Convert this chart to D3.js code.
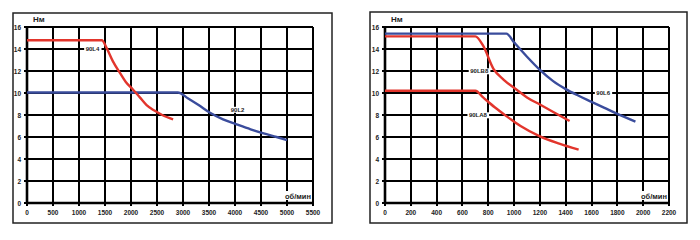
<!DOCTYPE html>
<html>
<head>
<meta charset="utf-8">
<script src="https://cdn.jsdelivr.net/npm/d3@7"></script>
<style>
body { margin: 0; background: #fff; }
svg { display: block; }
text { font-family: "Liberation Sans", Arial, sans-serif; font-weight: bold; }
</style>
</head>
<body>
<script>
// y ticks shared by both charts
var yTicks = [0, 2, 4, 6, 8, 10, 12, 14, 16];
// left chart
var xTicksLeft = [0, 500, 1000, 1500, 2000, 2500, 3000, 3500, 4000, 4500, 5000, 5500];
var s90L4 = [[0,14.8],[1440,14.8],[1530,14.1],[1650,12.9],[1790,11.8],[1900,11.0],[2040,10.3],[2170,9.6],[2300,8.9],[2450,8.4],[2600,8.0],[2810,7.6]];
var s90L2 = [[0,10.05],[2900,10.05],[3100,9.5],[3300,8.9],[3520,8.2],[3770,7.6],[4030,7.15],[4300,6.7],[4550,6.33],[4800,6.0],[5000,5.72]];
// right chart
var xTicksRight = [0, 200, 400, 600, 800, 1000, 1200, 1400, 1600, 1800, 2000, 2200];
var s90L6 = [[0,15.4],[940,15.4],[1000,14.6],[1100,13.3],[1200,12.1],[1300,11.1],[1400,10.35],[1500,9.75],[1600,9.2],[1700,8.65],[1800,8.1],[1940,7.4]];
var s90LB8 = [[0,15.15],[700,15.15],[760,14.3],[840,12.2],[920,11.2],[1020,10.3],[1100,9.6],[1200,8.95],[1300,8.3],[1430,7.45]];
var s90LA8 = [[0,10.2],[700,10.2],[760,9.6],[850,8.7],[940,7.9],[1050,7.0],[1200,6.06],[1350,5.4],[1500,4.85]];

var red = "#e2352c", blue = "#3a4c9c";

var svg = d3.select("body").append("svg")
    .attr("width", 700).attr("height", 240);

function drawChart(cfg) {
    var g = svg.append("g");
    // frame
    g.append("rect")
        .attr("x", cfg.frame[0]).attr("y", cfg.frame[1])
        .attr("width", cfg.frame[2]).attr("height", cfg.frame[3])
        .attr("fill", "none").attr("stroke", "#222").attr("stroke-width", 1.5);

    var x = d3.scaleLinear().domain([0, cfg.xMax]).range([cfg.left, cfg.right]);
    var y = d3.scaleLinear().domain([0, 16]).range([203, 27]);

    // grid lines, snapped to whole pixels, plus the small outside ticks
    var gx = g.append("g").attr("class", "gridx");
    cfg.xTicks.forEach(function(d) {
        var px = Math.round(x(d));
        gx.append("line")
            .attr("x1", px).attr("x2", px)
            .attr("y1", y(16)).attr("y2", y(0) + 3)
            .style("stroke", "#000").style("stroke-width", 2);
    });
    var gy = g.append("g").attr("class", "gridy");
    yTicks.forEach(function(d) {
        var py = Math.round(y(d));
        gy.append("line")
            .attr("x1", x(0) - 3).attr("x2", x(cfg.xMax))
            .attr("y1", py).attr("y2", py)
            .style("stroke", "#000").style("stroke-width", 2);
    });

    // thicker axes
    g.append("line").attr("x1", x(0)).attr("x2", x(0)).attr("y1", y(16)).attr("y2", y(0))
        .attr("stroke", "#000").attr("stroke-width", 2.6);
    g.append("line").attr("x1", x(0)).attr("x2", x(cfg.xMax)).attr("y1", y(0)).attr("y2", y(0))
        .attr("stroke", "#000").attr("stroke-width", 2.6);

    // tick labels
    g.selectAll(".yl").data(yTicks).enter().append("text")
        .attr("x", x(0) - 6).attr("y", function(d) { return y(d) + 2.5; })
        .attr("text-anchor", "end").attr("font-size", 6.5).attr("fill", "#222")
        .text(function(d) { return d; });
    g.selectAll(".xl").data(cfg.xTicks).enter().append("text")
        .attr("x", function(d) { return x(d); }).attr("y", 215)
        .attr("text-anchor", "middle").attr("font-size", 6.5).attr("fill", "#222")
        .text(function(d) { return d; });

    // axis titles
    g.append("text").attr("x", x(0) + 6).attr("y", 22)
        .attr("font-size", 8).attr("fill", "#222").text("Нм");
    g.append("rect").attr("x", x(cfg.xMax) - 32).attr("y", 191).attr("width", 31).attr("height", 9).attr("fill", "#fff");
    g.append("text").attr("x", x(cfg.xMax) - 2).attr("y", 199)
        .attr("text-anchor", "end").attr("font-size", 7.5).attr("fill", "#222").text("об/мин");

    var line = d3.line()
        .x(function(d) { return x(d[0]); })
        .y(function(d) { return y(d[1]); })
        .curve(d3.curveMonotoneX);

    // leader lines
    (cfg.leaders || []).forEach(function(l) {
        var px = Math.round(x(l[0]));
        g.append("line")
            .attr("x1", px).attr("x2", px)
            .attr("y1", y(l[1])).attr("y2", y(l[2]))
            .style("stroke", "#000").style("stroke-width", 2);
    });

    cfg.series.forEach(function(s) {
        g.append("path")
            .attr("d", line(s.data))
            .attr("fill", "none").attr("stroke", s.color)
            .attr("stroke-width", 2.4).attr("stroke-linejoin", "round");
    });

    cfg.labels.forEach(function(l) {
        var t = g.append("text")
            .attr("x", x(l.x)).attr("y", y(l.y) + 2.3)
            .attr("text-anchor", "middle").attr("font-size", 6).attr("fill", "#222")
            .text(l.text);
        var bb = t.node().getBBox();
        g.insert("rect", function() { return t.node(); })
            .attr("x", bb.x - 1.5).attr("y", bb.y).attr("width", bb.width + 3).attr("height", bb.height)
            .attr("fill", "#fff");
    });
}

drawChart({
    frame: [13, 13, 319, 210],
    left: 27, right: 313, xMax: 5500, xTicks: xTicksLeft,
    series: [{data: s90L2, color: blue}, {data: s90L4, color: red}],
    labels: [{text: "90L4", x: 1260, y: 14}, {text: "90L2", x: 4050, y: 8.5}]
});

drawChart({
    frame: [370, 12, 317, 211],
    left: 385, right: 669, xMax: 2200, xTicks: xTicksRight,
    leaders: [[800, 11.6, 6.9]],
    series: [{data: s90L6, color: blue}, {data: s90LB8, color: red}, {data: s90LA8, color: red}],
    labels: [{text: "90LB8", x: 730, y: 12}, {text: "90LA8", x: 720, y: 8}, {text: "90L6", x: 1690, y: 10}]
});
</script>
</body>
</html>
